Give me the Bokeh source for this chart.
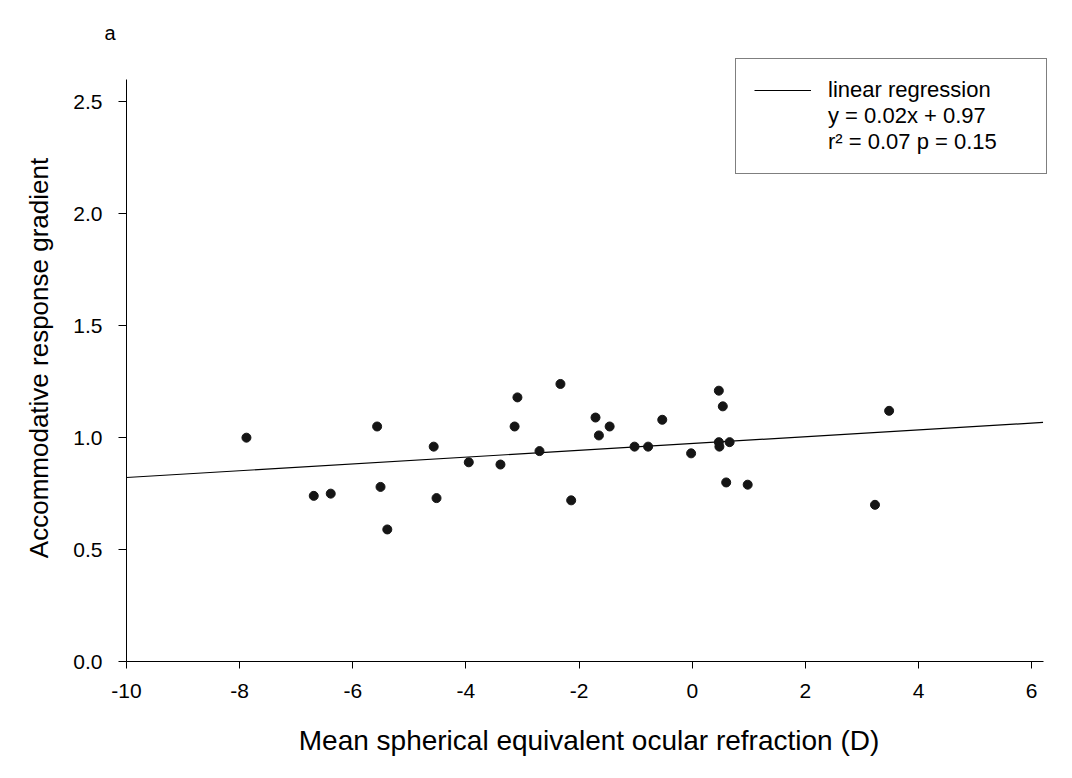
from bokeh.plotting import figure
from bokeh.models import Range1d, FixedTicker, Legend, LegendItem, PrintfTickFormatter
from bokeh.embed import file_html
from bokeh.resources import INLINE

# ---- data ----
refraction = [-7.88, -6.69, -6.39, -5.57, -5.51, -5.39, -4.57, -4.52, -3.95, -3.39,
              -3.14, -3.09, -2.70, -2.33, -2.14, -1.71, -1.65, -1.46, -1.02, -0.78,
              -0.53, -0.02, 0.47, 0.54, 0.47, 0.48, 0.66, 0.60, 0.98, 3.23, 3.48]
gradient = [1.00, 0.74, 0.75, 1.05, 0.78, 0.59, 0.96, 0.73, 0.89, 0.88,
            1.05, 1.18, 0.94, 1.24, 0.72, 1.09, 1.01, 1.05, 0.96, 0.96,
            1.08, 0.93, 1.21, 1.14, 0.98, 0.96, 0.98, 0.80, 0.79, 0.70, 1.12]
reg_x = [-10.0, 6.2]
reg_y = [0.822, 1.068]
x_ticks = [-10, -8, -6, -4, -2, 0, 2, 4, 6]
x_tick_labels = ["-10", "-8", "-6", "-4", "-2", "0", "2", "4", "6"]
y_ticks = [0.0, 0.5, 1.0, 1.5, 2.0, 2.5]
x_axis_extent = (-10, 6.2)
y_axis_extent = (0, 2.6)
legend_lines = ["linear regression", "y = 0.02x + 0.97", "r\u00b2 = 0.07 p = 0.15"]
panel_label = "a"

FONT = "Liberation Sans"

p = figure(width=1072, height=778, x_range=Range1d(-10, 6.35), y_range=Range1d(0, 2.712),
           output_backend="svg", toolbar_location=None,
           min_border_left=126, min_border_right=21, min_border_top=54, min_border_bottom=117)
p.outline_line_color = None
p.xgrid.visible = False
p.ygrid.visible = False
p.background_fill_color = "white"
p.border_fill_color = "white"

p.title.text = panel_label
p.title.align = "left"
p.title.offset = -22
p.title.standoff = 22
p.title.text_font = FONT
p.title.text_font_size = "20px"
p.title.text_font_style = "normal"
p.title.text_color = "black"

line_r = p.line(reg_x, reg_y, line_color="black", line_width=1.2)
p.scatter(refraction, gradient, size=9, marker="circle", fill_color="#151515", line_color="#151515")
blank = p.line(x=[], y=[], line_alpha=0)

xa = p.xaxis[0]
xa.bounds = x_axis_extent
xa.ticker = FixedTicker(ticks=x_ticks)
xa.major_label_overrides = {t: s for t, s in zip(x_ticks, x_tick_labels)}
xa.axis_label = "Mean spherical equivalent ocular refraction (D)"
xa.axis_label_text_font = FONT
xa.axis_label_text_font_size = "28px"
xa.axis_label_text_font_style = "normal"
xa.axis_label_standoff = 24
xa.major_label_text_font = FONT
xa.major_label_text_font_size = "21px"
xa.major_label_standoff = 15
xa.major_tick_out = 7
xa.major_tick_in = 0
xa.minor_tick_out = 0
xa.minor_tick_in = 0

ya = p.yaxis[0]
ya.bounds = y_axis_extent
ya.ticker = FixedTicker(ticks=y_ticks)
ya.formatter = PrintfTickFormatter(format="%.1f")
ya.axis_label = "Accommodative response gradient"
ya.axis_label_text_font = FONT
ya.axis_label_text_font_size = "26px"
ya.axis_label_text_font_style = "normal"
ya.axis_label_standoff = 16
ya.major_label_text_font = FONT
ya.major_label_text_font_size = "21px"
ya.major_label_standoff = 16
ya.major_tick_out = 8
ya.major_tick_in = 0
ya.minor_tick_out = 0
ya.minor_tick_in = 0

for ax in (xa, ya):
    ax.axis_line_color = "black"
    ax.major_tick_line_color = "black"
    ax.major_label_text_color = "black"
    ax.axis_label_text_color = "black"

legend = Legend(items=[LegendItem(label=legend_lines[0], renderers=[line_r]),
                       LegendItem(label=legend_lines[1], renderers=[blank]),
                       LegendItem(label=legend_lines[2], renderers=[blank])],
                location=(609, 487))
legend.border_line_color = "black"
legend.border_line_width = 1
legend.background_fill_color = "white"
legend.background_fill_alpha = 1.0
legend.padding = 18
legend.spacing = 0
legend.margin = 0
legend.glyph_width = 57
legend.glyph_height = 20
legend.label_standoff = 17
legend.label_height = 26
legend.label_width = 200
legend.label_text_font = FONT
legend.label_text_font_size = "22px"
legend.label_text_color = "black"
p.add_layout(legend)

open("out.html", "w").write(file_html(p, INLINE))
